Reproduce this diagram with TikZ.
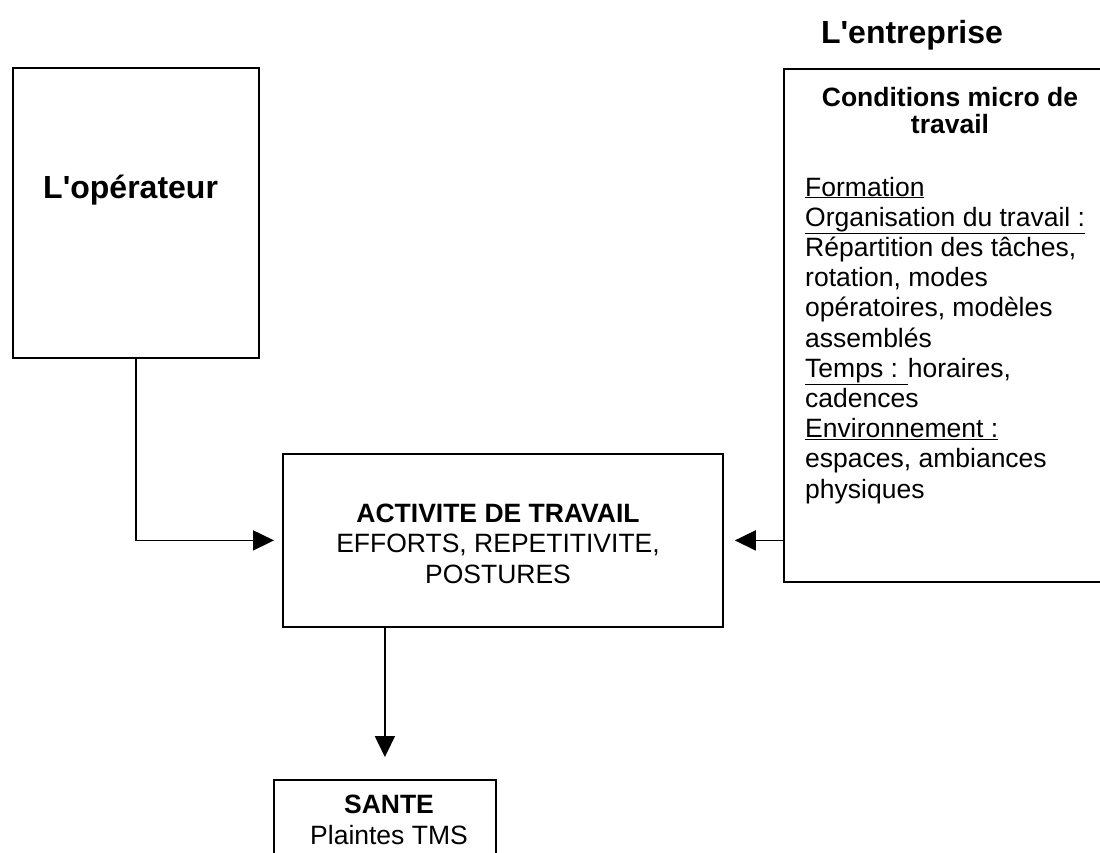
\documentclass[tikz,border=0pt]{standalone}
\usepackage{fontspec}
\setmainfont{Liberation Sans}
\usetikzlibrary{arrows.meta,positioning}
\tikzset{
  box/.style={draw,line width=1.8pt,inner sep=0pt,anchor=north west},
  titre/.style={font=\fontsize{32}{36}\selectfont\bfseries,inner sep=0pt},
  texte/.style={font=\fontsize{26.5}{30.2}\selectfont,inner sep=0pt},
  entete/.style={font=\fontsize{26.5}{27}\selectfont\bfseries,inner sep=0pt},
  arrow/.style={-{Triangle[length=21pt,width=20pt]},line width=1.8pt}
}
\begin{document}
\begin{tikzpicture}[x=1pt,y=-1pt]
  \clip (0,0) rectangle (1100,852);
  % boxes
  \node[box,minimum width=246pt,minimum height=290pt] (op) at (12,67) {};
  \node[box,minimum width=440pt,minimum height=173pt] (act) at (282,453) {};
  \node[box,minimum width=340pt,minimum height=513pt] (ent) at (783,68) {};
  \node[box,minimum width=222pt,minimum height=100pt] (sante) at (273,779) {};

  % texts (base = last line)
  \node[titre,anchor=base west] (optxt) at (43,198) {L\textquotesingle opérateur};
  \node[titre,anchor=base] (enttxt) at (912,43) {L\textquotesingle entreprise};
  \node[entete,anchor=base,align=center] (enttete) at (950,133) {Conditions micro de\\travail};
  \node[texte,anchor=base west,align=left] (entcorps) at (805,498) {\underline{Formation}\\\underline{Organisation du travail :}\\Répartition des tâches,\\rotation, modes\\opératoires, modèles\\assemblés\\\underline{Temps : }horaires,\\cadences\\\underline{Environnement :}\\espaces, ambiances\\physiques};
  \node[texte,anchor=base,align=center] (acttxt) at (498,583) {\textbf{ACTIVITE DE TRAVAIL}\\EFFORTS, REPETITIVITE,\\POSTURES};
  \node[texte,anchor=base,align=center] (santetxt) at (389,844) {\textbf{SANTE}\\Plaintes TMS};

  \draw[arrow,shorten >=8pt] (op.south) |- (act.west);
  \draw[arrow,shorten >=11pt] (ent.west |- act.east) -- (act.east);
  \draw[arrow,shorten >=22pt] (act.south -| sante.north) -- (sante.north);
\end{tikzpicture}
\end{document}
